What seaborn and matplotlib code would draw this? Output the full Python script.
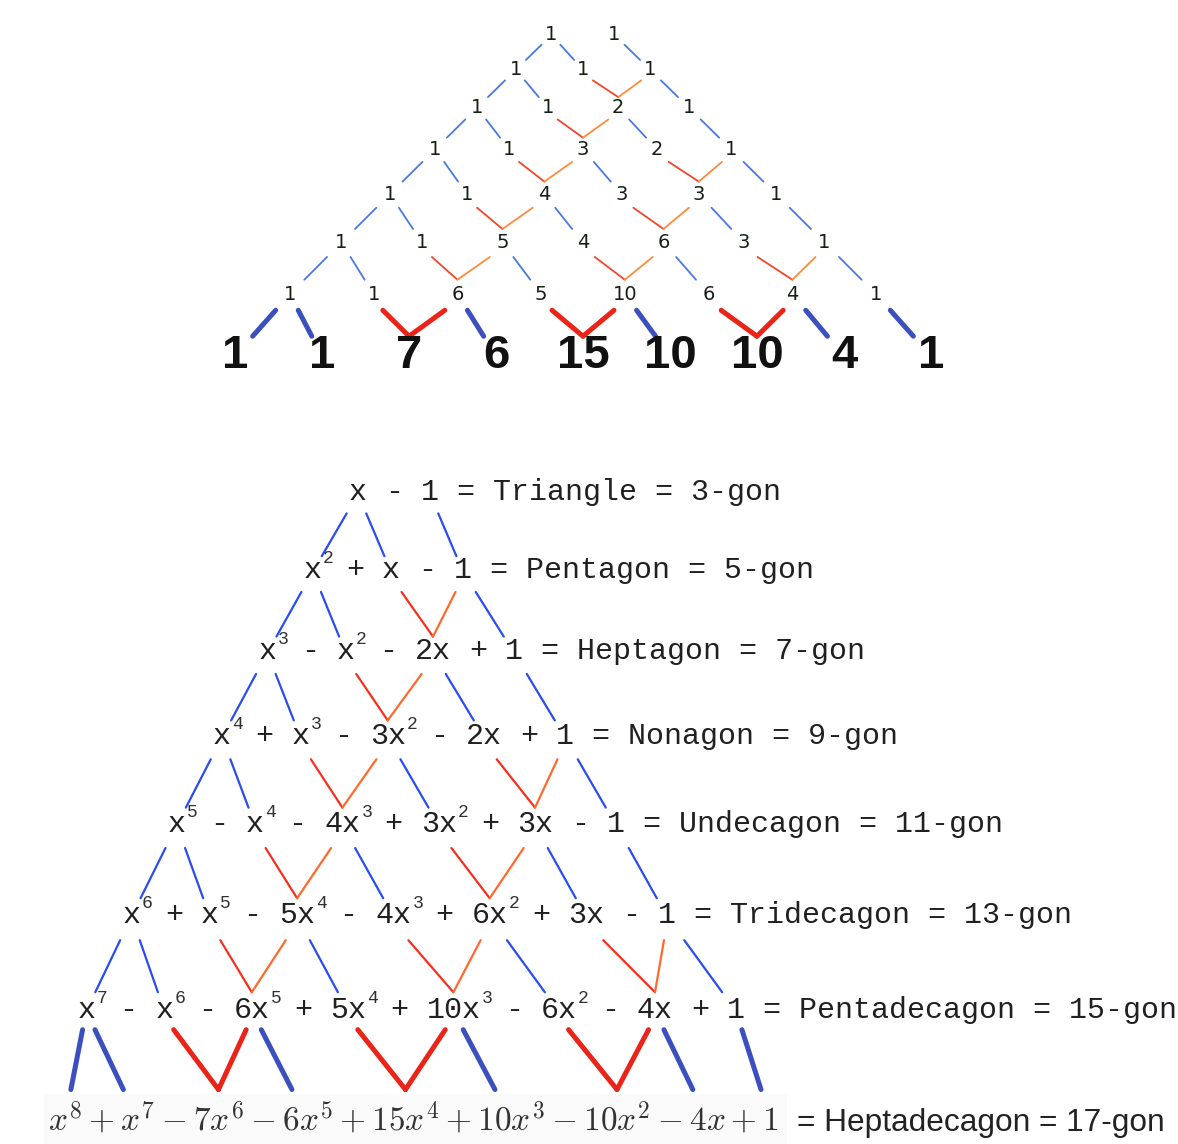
import numpy as np
import pandas as pd
import matplotlib
matplotlib.use("Agg")
import matplotlib.pyplot as plt
from matplotlib import font_manager
from matplotlib.patches import Rectangle
import seaborn as sns

sns.set_theme(style="white")
plt.rcParams["mathtext.fontset"] = "cm"

# absolute coefficients shown in the top triangle
coef_rows = [
    [1, 1],
    [1, 1, 1],
    [1, 1, 2, 1],
    [1, 1, 3, 2, 1],
    [1, 1, 4, 3, 3, 1],
    [1, 1, 5, 4, 6, 3, 1],
    [1, 1, 6, 5, 10, 6, 4, 1],
    [1, 1, 7, 6, 15, 10, 10, 4, 1],
]

# signed coefficients of the polynomials, highest power first
poly_rows = [
    [1, -1],
    [1, 1, -1],
    [1, -1, -2, 1],
    [1, 1, -3, -2, 1],
    [1, -1, -4, 3, 3, -1],
    [1, 1, -5, -4, 6, 3, -1],
    [1, -1, -6, 5, 10, -6, -4, 1],
    [1, 1, -7, -6, 15, 10, -10, -4, 1],
]
polygon_names = ["Triangle", "Pentagon", "Heptagon", "Nonagon", "Undecagon",
                 "Tridecagon", "Pentadecagon", "Heptadecagon"]
polygon_sides = [3, 5, 7, 9, 11, 13, 15, 17]

installed = {f.name for f in font_manager.fontManager.ttflist}
narrow = next((f for f in ["Liberation Sans Narrow", "DejaVu Sans Condensed"] if f in installed), None)
if narrow is None:
    narrow, big_pt = "Liberation Sans", 34
else:
    big_pt = 37

W, H, DPI = 1178, 1144, 100
fig = plt.figure(figsize=(W / DPI, H / DPI), dpi=DPI)
ax = fig.add_axes([0, 0, 1, 1])
ax.set_xlim(0, W)
ax.set_ylim(H, 0)
renderer = fig.canvas.get_renderer()

thin_top = {"blue": "#4a78e2", "red": "#f0462a", "orange": "#ff8a3a"}
thin_bot = {"blue": "#2a4cf0", "red": "#f5301e", "orange": "#ff6a2c"}
bold = {"blue": "#3b4fbf", "red": "#ea2418", "orange": "#ea2418"}

seg_rows = []


def add_seg(p, q, color, width):
    sid = len(seg_rows) // 2
    seg_rows.append(dict(seg=sid, x=p[0], y=p[1], color=color, width=width))
    seg_rows.append(dict(seg=sid, x=q[0], y=q[1], color=color, width=width))


def links(n):
    # blue down-left from the first entry, then down-right copies;
    # pairs that add up into the next row are drawn as a red/orange V
    out = [(0, 0, "blue")]
    for k in range(1, n + 1):
        if k % 2 == 0 and k < n:
            out += [(k - 1, k, "red"), (k, k, "orange")]
        else:
            out.append((k - 1, k, "blue"))
    return out


def connect(src, dst, t0, t1, pal, width):
    for a, b, kind in links(len(src)):
        (x0, y0), (x1, y1) = src[a], dst[b]
        p = (x0 + t0 * (x1 - x0), y0 + t0 * (y1 - y0))
        if kind == "blue":
            q = (x0 + t1 * (x1 - x0), y0 + t1 * (y1 - y0))
        else:
            q = (x1, y0 + t1 * (y1 - y0))
        add_seg(p, q, pal[kind], width)


# ---- top triangle of numbers
last = len(coef_rows) - 1
top_pts = []
for r, row in enumerate(coef_rows):
    n = len(row)
    hw = 31.5 + 34 * r + 1.6 * r * r
    y = 356 if r == last else 35 + 33 * r + 1.7 * r * r
    pts = [(583 - hw + 2 * hw * k / (n - 1), y) for k in range(n)]
    top_pts.append(pts)
    for (x, yy), v in zip(pts, row):
        if r == last:
            ax.text(x, yy, str(v), fontsize=big_pt, fontweight="bold", family=narrow,
                    ha="center", va="center", color="#111111")
        else:
            ax.text(x, yy, str(v), fontsize=14, family="DejaVu Sans",
                    ha="center", va="center", color="#142014")

for r in range(last):
    if r < last - 1:
        connect(top_pts[r], top_pts[r + 1], 0.28, 0.72, thin_top, "top")
    else:
        connect(top_pts[r], top_pts[r + 1], 0.26, 0.68, bold, "bold")

# ---- polynomial rows (monospace)
cw = 18.0
mono_pt = cw / 0.6 * 72 / DPI
sup_adv = 0.35 * cw


def term_parts(c, p):
    a = abs(c)
    base = ("" if (a == 1 and p > 0) else str(a)) + ("x" if p > 0 else "")
    sup = str(p) if p > 1 else ""
    return base, sup


bot_pts = []
for r, poly in enumerate(poly_rows[:-1]):
    deg = len(poly) - 1
    x = 349 - 45.3 * r
    y = 494 + 76 * r + 1.7 * r * r
    pts = []
    for i, c in enumerate(poly):
        p = deg - i
        if i > 0:
            ax.text(x + 1.5 * cw, y + 6.4, "-" if c < 0 else "+", fontsize=mono_pt,
                    family="Liberation Mono", ha="center", va="baseline", color="#202020")
            x += 3 * cw
        base, sup = term_parts(c, p)
        ax.text(x, y + 6.4, base, fontsize=mono_pt, family="Liberation Mono",
                ha="left", va="baseline", color="#202020")
        pts.append((x + len(base) * cw / 2, y))
        x += len(base) * cw
        if sup:
            ax.text(x + 1, y - 8.5, sup, fontsize=13, family="Liberation Mono",
                    ha="left", va="baseline", color="#303030")
            x += sup_adv
    x += cw
    ax.text(x, y + 6.4, f"= {polygon_names[r]} = {polygon_sides[r]}-gon", fontsize=mono_pt,
            family="Liberation Mono", ha="left", va="baseline", color="#202020")
    bot_pts.append(pts)

# ---- last row in math type
poly = poly_rows[-1]
deg = len(poly) - 1
terms = []
for i, c in enumerate(poly):
    p = deg - i
    base, _ = term_parts(c, p)
    terms.append(base + (f"^{{{p}}}" if p > 1 else ""))
ops = ["+" if c > 0 else "-" for c in poly[1:]]


def prefix(k):
    s = terms[0]
    for i in range(1, k + 1):
        s += ops[i - 1] + terms[i]
    return "$" + s + "$"


def width_px(s, **kw):
    t = ax.text(0, 0, s, **kw)
    w = t.get_window_extent(renderer).width
    t.remove()
    return w


mx0, my, mbase = 48, 1120, 1131
fs = 25 * 730 / width_px(prefix(deg), fontsize=25)
full_w = width_px(prefix(deg), fontsize=fs)
ax.add_patch(Rectangle((mx0 - 4, 1094), full_w + 12, 50, facecolor="#fafafa", edgecolor="none", zorder=0))
ax.text(mx0, mbase, prefix(deg), fontsize=fs, ha="left", va="baseline", color="#333333")
math_pts = []
for k in range(deg + 1):
    end = width_px(prefix(k), fontsize=fs)
    w = width_px("$" + terms[k] + "$", fontsize=fs)
    math_pts.append((mx0 + end - w / 2, my))

label = f"= {polygon_names[-1]} = {polygon_sides[-1]}-gon"
lfs = 24 * 368 / width_px(label, fontsize=24, family="Liberation Sans")
ax.text(mx0 + full_w + 18, mbase, label, fontsize=lfs, family="Liberation Sans",
        ha="left", va="baseline", color="#222222")
bot_pts.append(math_pts)

for r in range(len(bot_pts) - 1):
    if r < len(bot_pts) - 2:
        connect(bot_pts[r], bot_pts[r + 1], 0.25, 0.8, thin_bot, "bottom")
    else:
        connect(bot_pts[r], bot_pts[r + 1], 0.17, 0.72, bold, "bold")

seg_df = pd.DataFrame(seg_rows)
sns.lineplot(data=seg_df, x="x", y="y", units="seg", estimator=None, sort=False,
             hue="color", palette={c: c for c in seg_df["color"].unique()},
             size="width", sizes={"top": 1.3, "bottom": 1.6, "bold": 3.6},
             legend=False, ax=ax)

ax.set_xlim(0, W)
ax.set_ylim(H, 0)
ax.axis("off")
fig.savefig("out.png", dpi=DPI, facecolor="white")
